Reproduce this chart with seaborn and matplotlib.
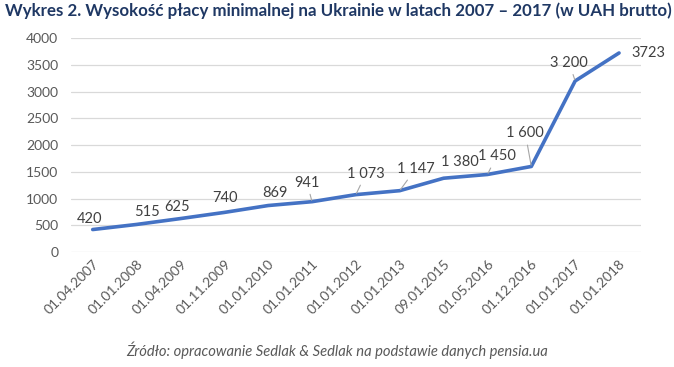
import matplotlib
matplotlib.use('Agg')
import matplotlib.pyplot as plt
import seaborn as sns
import pandas as pd

dates = ['01.04.2007', '01.01.2008', '01.04.2009', '01.11.2009', '01.01.2010',
         '01.01.2011', '01.01.2012', '01.01.2013', '09.01.2015', '01.05.2016',
         '01.12.2016', '01.01.2017', '01.01.2018']
wage = [420, 515, 625, 740, 869, 941, 1073, 1147, 1380, 1450, 1600, 3200, 3723]
wage_labels = ['420', '515', '625', '740', '869', '941', '1 073', '1 147',
               '1 380', '1 450', '1 600', '3 200', '3723']

# label offsets in pixels (dx, dy) and whether a leader line is drawn
offsets = [(-3, 11), (10, 12), (-3, 12), (1, 14), (7, 13), (-5, 19), (10, 21),
           (16, 22), (16, 16), (9, 18), (-6, 33), (-6, 18), (20, 0)]
leaders = [False, False, False, False, False, True, True, True, False, True,
           True, True, False]

sns.set_theme(style='white')
plt.rcParams['font.family'] = ['Lato', 'DejaVu Sans']

df = pd.DataFrame({'date': dates, 'wage': wage})

fig = plt.figure(figsize=(6.74, 3.67), dpi=100)
ax = fig.add_axes([0.105, 0.3134, 0.846, 0.5826])

sns.lineplot(data=df, x='date', y='wage', sort=False, color='#4472C4',
             linewidth=2.6, ax=ax)

ax.set_xlim(-0.5, len(dates) - 0.5)
ax.set_ylim(0, 4000)
ax.set_yticks(range(0, 4001, 500))
ax.yaxis.grid(True, color='#D9D9D9', linewidth=0.9)
ax.set_axisbelow(True)
for s in ax.spines.values():
    s.set_visible(False)
ax.set_xlabel('')
ax.set_ylabel('')
ax.tick_params(axis='both', length=0, labelsize=10, labelcolor='#595959', pad=4)
ax.tick_params(axis='y', pad=9)
plt.setp(ax.get_xticklabels(), rotation=45, ha='right', rotation_mode='anchor')

for i, (v, t) in enumerate(zip(wage, wage_labels)):
    dx, dy = offsets[i]
    ha = 'left' if i == len(wage) - 1 else 'center'
    ap = None
    if leaders[i]:
        ap = dict(arrowstyle='-', color='#A6A6A6', linewidth=0.8,
                  shrinkA=1, shrinkB=1)
    ax.annotate(t, (i, v), xytext=(dx - (8 if ha == 'left' else 0), dy),
                textcoords='offset pixels', ha=ha, va='center',
                fontsize=10.5, color='#404040', arrowprops=ap)

fig.text(0.007, 0.972, 'Wykres 2. Wysokość płacy minimalnej na Ukrainie w latach 2007 – 2017 (w UAH brutto)',
         ha='left', va='center', fontsize=12.2, fontweight='bold', color='#1F3864')
fig.text(0.5, 0.047, 'Źródło: opracowanie Sedlak & Sedlak na podstawie danych pensia.ua',
         ha='center', va='center', fontsize=10.6, style='italic', color='#595959')

fig.savefig('out.png', dpi=100)
